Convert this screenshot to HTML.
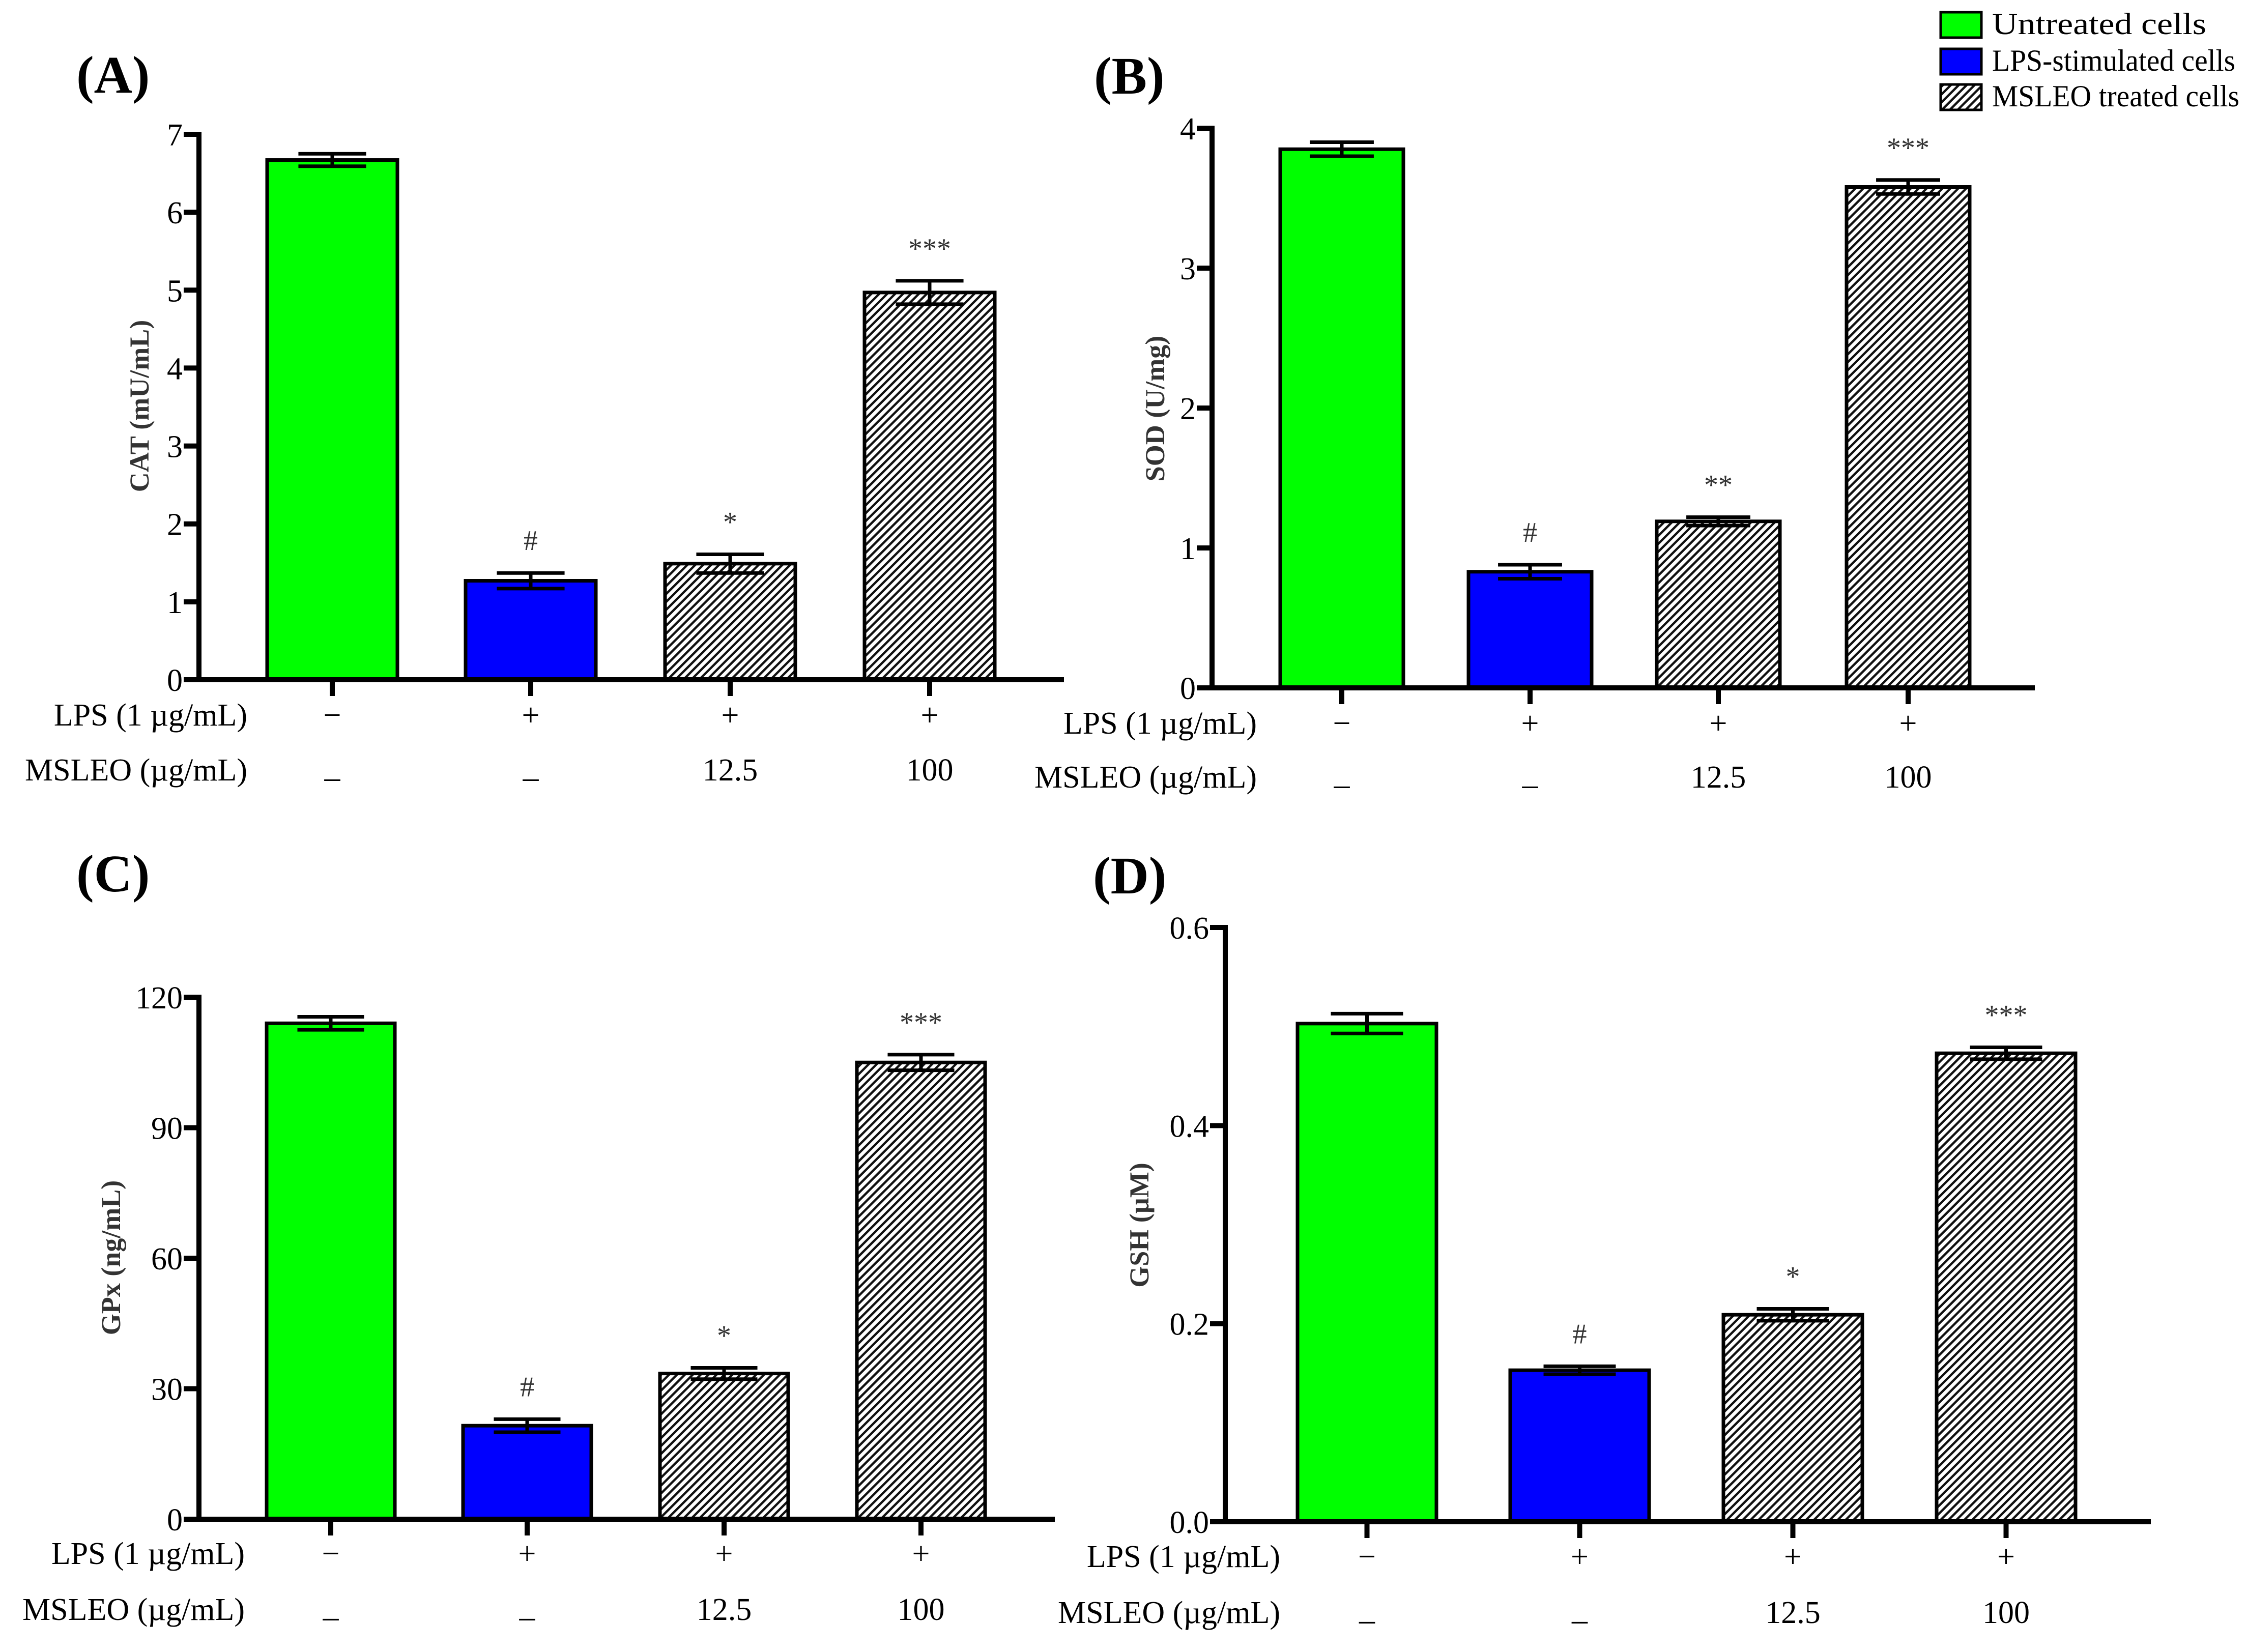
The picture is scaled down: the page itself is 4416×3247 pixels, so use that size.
<!DOCTYPE html>
<html><head><meta charset="utf-8"><style>
html,body{margin:0;padding:0;background:#fff;}
svg{display:block;font-family:"Liberation Serif","Times New Roman",serif;}
svg text{font-family:"Liberation Serif","Times New Roman",serif;}
</style></head><body>
<svg id="fig" width="4416" height="3247" viewBox="0 0 4416 3247" xmlns="http://www.w3.org/2000/svg" font-family="Liberation Serif, serif">
<defs>
<pattern id="hatch" patternUnits="userSpaceOnUse" width="11" height="11" patternTransform="rotate(45)">
<rect width="11" height="11" fill="#fff"/>
<rect x="0" y="0" width="4.5" height="11" fill="#111"/>
</pattern>
</defs>
<g id="legend" font-family="Liberation Serif, serif">
<g><rect x="3814" y="24" width="80" height="50" fill="#00ff00" stroke="#000" stroke-width="5"/><text x="3915" y="67" font-size="60" textLength="421" lengthAdjust="spacingAndGlyphs">Untreated cells</text></g>
<g><rect x="3814" y="96" width="80" height="50" fill="#0000ff" stroke="#000" stroke-width="5"/><text x="3915" y="139" font-size="60" textLength="478" lengthAdjust="spacingAndGlyphs">LPS-stimulated cells</text></g>
<g><rect x="3814" y="166" width="80" height="50" fill="url(#hatch)" stroke="#000" stroke-width="5"/><text x="3915" y="209" font-size="60" textLength="486" lengthAdjust="spacingAndGlyphs">MSLEO treated cells</text></g>
</g>
</svg>
<script>
// Panel data
const catLps = ["\u2212","+","+","+"];
const catMsleo = ["\u2013","\u2013","12.5","100"];
const catValues = [6.67, 1.27, 1.49, 4.97];
const catErrors = [0.08, 0.10, 0.12, 0.15];
const catSig = ["", "#", "*", "***"];
const catTicks = [0,1,2,3,4,5,6,7];
const sodValues = [3.85, 0.83, 1.19, 3.58];
const sodErrors = [0.05, 0.05, 0.03, 0.05];
const sodSig = ["", "#", "**", "***"];
const sodTicks = [0,1,2,3,4];
const gpxValues = [114, 21.5, 33.5, 105];
const gpxErrors = [1.5, 1.5, 1.3, 1.8];
const gpxSig = ["", "#", "*", "***"];
const gpxTicks = [0,30,60,90,120];
const gshValues = [0.503, 0.153, 0.209, 0.473];
const gshErrors = [0.010, 0.004, 0.006, 0.006];
const gshSig = ["", "#", "*", "***"];
const gshTicks = ["0.0","0.2","0.4","0.6"];

const NS = "http://www.w3.org/2000/svg";
const svg = document.getElementById("fig");
const fills = ["#00ff00","#0000ff","url(#hatch)","url(#hatch)"];
const FF = "Liberation Serif, serif";

function mk(tag, attrs, parent){
  const e = document.createElementNS(NS, tag);
  for (const k in attrs) e.setAttribute(k, attrs[k]);
  parent.appendChild(e);
  return e;
}
function txt(parent, x, y, s, size, anchor, extra){
  const t = mk("text", Object.assign({x:x, y:y, "font-size":size, "font-family":FF, "text-anchor":anchor||"start"}, extra||{}), parent);
  t.textContent = s;
  return t;
}

function panel(cfg){
  const g = mk("g", {}, svg);
  
  
  const maxV = parseFloat(cfg.ticks[cfg.ticks.length-1]);
  const yS = v => cfg.y0 - (v / maxV) * (cfg.y0 - cfg.yTop);
  const L = txt(g, cfg.letterX, cfg.letterY, cfg.letter, 104, "start", {"font-weight":"bold"});
  
  
  const yt = txt(g, 0, 0, cfg.title, 54, "middle", {"font-weight":"bold", fill:"#333", transform:"translate("+(cfg.titleX)+","+cfg.titleY+") rotate(-90)"});
  
  
  for (let i=0;i<4;i++){
    const x0 = cfg.barL[i], w = cfg.barW;
    const v = cfg.values[i], e = cfg.errors[i];
    const top = yS(v);
    const r = mk("rect", {x:x0, y:top, width:w, height:cfg.y0-top, fill:fills[i], stroke:"#000", "stroke-width":7}, g);
    
    
    const cx = x0 + w/2, hw = w*0.26;
    const eb = mk("g", {stroke:"#000", "stroke-width":7}, g);
    
    
    mk("line", {x1:cx, x2:cx, y1:yS(v+e), y2:yS(v-e)}, eb);
    mk("line", {x1:cx-hw, x2:cx+hw, y1:yS(v+e), y2:yS(v+e)}, eb);
    mk("line", {x1:cx-hw, x2:cx+hw, y1:yS(v-e), y2:yS(v-e)}, eb);
    if (cfg.sig[i]){
      const s = txt(g, cx, yS(v+e)-45, cfg.sig[i], 56, "middle", {fill:"#333"});
      
      
    }
    const xt = mk("line", {x1:cx, x2:cx, y1:cfg.y0, y2:cfg.y0+32, stroke:"#000", "stroke-width":10}, g);
    
    
    const a = txt(g, cx, cfg.lpsY, catLps[i], 62, "middle");
    
    
    const b = txt(g, cx, cfg.msY + (catMsleo[i]==="\u2013" ? 14 : 0), catMsleo[i], 62, "middle");
    
    
  }
  const ax = mk("g", {stroke:"#000", "stroke-width":10}, g);
  
  
  mk("line", {x1:cfg.ax, x2:cfg.ax, y1:cfg.yTop-5, y2:cfg.y0+5}, ax);
  mk("line", {x1:cfg.ax-30, x2:cfg.axEnd, y1:cfg.y0, y2:cfg.y0}, ax);
  cfg.ticks.forEach(t => {
    const y = yS(parseFloat(t));
    mk("line", {x1:cfg.ax-30, x2:cfg.ax, y1:y, y2:y}, ax);
    const tl = txt(g, cfg.ax-32, y+22, String(t), 62, "end");
    
    
  });
  const l1 = txt(g, cfg.labR, cfg.lpsY, "LPS (1 \u00b5g/mL)", 62, "end");
  
  
  const l2 = txt(g, cfg.labR, cfg.msY, "MSLEO (\u00b5g/mL)", 62, "end");
  
  
}

panel({name:"panel-a-cat", letter:"(A)", letterX:150, letterY:182, title:"CAT (mU/mL)", titleX:292, titleY:798,
  ax:391, axEnd:2091, y0:1336, yTop:264, barL:[525,915,1307,1699], barW:256,
  values:catValues, errors:catErrors, sig:catSig, ticks:catTicks, lpsY:1426, msY:1534, labR:486});
panel({name:"panel-b-sod", letter:"(B)", letterX:2150, letterY:184, title:"SOD (U/mg)", titleX:2288, titleY:803,
  ax:2382, axEnd:3999, y0:1352, yTop:252, barL:[2516,2886,3256,3629], barW:242,
  values:sodValues, errors:sodErrors, sig:sodSig, ticks:sodTicks, lpsY:1442, msY:1548, labR:2470});
panel({name:"panel-c-gpx", letter:"(C)", letterX:150, letterY:1752, title:"GPx (ng/mL)", titleX:236, titleY:2472,
  ax:391, axEnd:2073, y0:2986, yTop:1960, barL:[524,910,1297,1684], barW:252,
  values:gpxValues, errors:gpxErrors, sig:gpxSig, ticks:gpxTicks, lpsY:3074, msY:3184, labR:481});
panel({name:"panel-d-gsh", letter:"(D)", letterX:2148, letterY:1756, title:"GSH (\u00b5M)", titleX:2257, titleY:2408,
  ax:2408, axEnd:4227, y0:2991, yTop:1823, barL:[2550,2968,3387,3806], barW:273,
  values:gshValues, errors:gshErrors, sig:gshSig, ticks:gshTicks, lpsY:3080, msY:3190, labR:2516});
</script>
</body></html>
